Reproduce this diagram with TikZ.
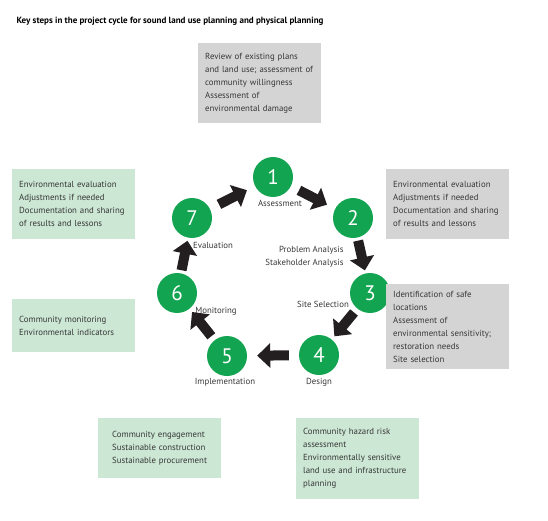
\documentclass[tikz,border=0pt]{standalone}
\usepackage{fontspec}
\setmainfont{PT Sans}
\usetikzlibrary{arrows.meta}
\definecolor{stepgreen}{RGB}{18,164,80}
\definecolor{boxgreen}{RGB}{204,231,212}
\definecolor{boxgrey}{RGB}{212,212,212}
\definecolor{txtgrey}{RGB}{55,55,55}
\definecolor{arrowblack}{RGB}{35,31,32}

\begin{document}
\begin{tikzpicture}[x=1pt,y=-1pt,
    every node/.style={text=txtgrey,font=\fontsize{8.8}{13}\selectfont},
    stepnode/.style={circle,fill=stepgreen,minimum size=40pt,inner sep=0pt,text=white,font=\fontsize{21}{21}\selectfont},
    infobox/.style={anchor=north west,align=left,text width=109pt,inner xsep=7pt,inner ysep=0pt},
    greybox/.style={infobox,fill=boxgrey},
    greenbox/.style={infobox,fill=boxgreen},
    bigarrow/.style={draw=arrowblack,line width=10pt,-{Triangle[length=13pt,width=24pt]}}]
        \useasboundingbox (0,0) rectangle (548,521);

        % title
        \node[anchor=west,text=black,font=\fontsize{9}{10}\selectfont\bfseries] (title) at (13,21)
            {Key steps in the project cycle for sound land use planning and physical planning};

        % the seven steps
        \node[stepnode] (c1) at (273,177) {1};
        \node[stepnode] (c2) at (353,218) {2};
        \node[stepnode] (c3) at (370,293) {3};
        \node[stepnode] (c4) at (319,355) {4};
        \node[stepnode] (c5) at (227,356) {5};
        \node[stepnode] (c6) at (177,293) {6};
        \node[stepnode] (c7) at (192,218) {7};

        \node (l1) at (280,203) {Assessment};
        \node[anchor=east,align=right] (l2) at (347,257) {Problem Analysis\\Stakeholder Analysis};
        \node (l3) at (323,304) {Site Selection};
        \node (l4) at (319,382) {Design};
        \node (l5) at (225,382) {Implementation};
        \node (l6) at (216,311) {Monitoring};
        \node (l7) at (213,245) {Evaluation};

        \draw[bigarrow,shorten <=9pt,shorten >=9pt] (c1)--(c2);
        \draw[bigarrow,shorten <=3pt,shorten >=3pt] (c2)--(c3);
        \draw[bigarrow,shorten <=5pt,shorten >=4pt] (c3)--(c4);
        \draw[bigarrow,shorten <=10pt,shorten >=10pt] (c4)--(c5);
        \draw[bigarrow,shorten <=5pt,shorten >=4pt] (c5)--(c6);
        \draw[bigarrow,shorten <=3pt,shorten >=3pt] (c6)--(c7);
        \draw[bigarrow,shorten <=10pt,shorten >=9pt] (c7)--(c1);

        % boxes
        \node[greybox,minimum height=80pt] (review) at (198,43)
            {Review of existing plans\\and land use; assessment of\\community willingness\\Assessment of\\environmental damage};
        \node[greenbox,minimum height=70pt] (evalleft) at (12,169)
            {Environmental evaluation\\Adjustments if needed\\Documentation and sharing\\of results and lessons};
        \node[greybox,minimum height=70pt] (evalright) at (386,169)
            {Environmental evaluation\\Adjustments if needed\\Documentation and sharing\\of results and lessons};
        \node[greybox,minimum height=85pt] (sitebox) at (386,284)
            {Identification of safe\\locations\\Assessment of\\environmental sensitivity;\\restoration needs\\Site selection};
        \node[greenbox,minimum height=53pt] (monbox) at (12,299)
            {Community monitoring\\Environmental indicators};
        \node[greenbox,minimum height=60pt,text width=95pt,inner xsep=14pt] (implbox) at (98,418)
            {Community engagement\\Sustainable construction\\Sustainable procurement};
        \node[greenbox,minimum height=81pt] (designbox) at (296,418)
            {Community hazard risk\\assessment\\Environmentally sensitive\\land use and infrastructure\\planning};
    \end{tikzpicture}
\end{document}
